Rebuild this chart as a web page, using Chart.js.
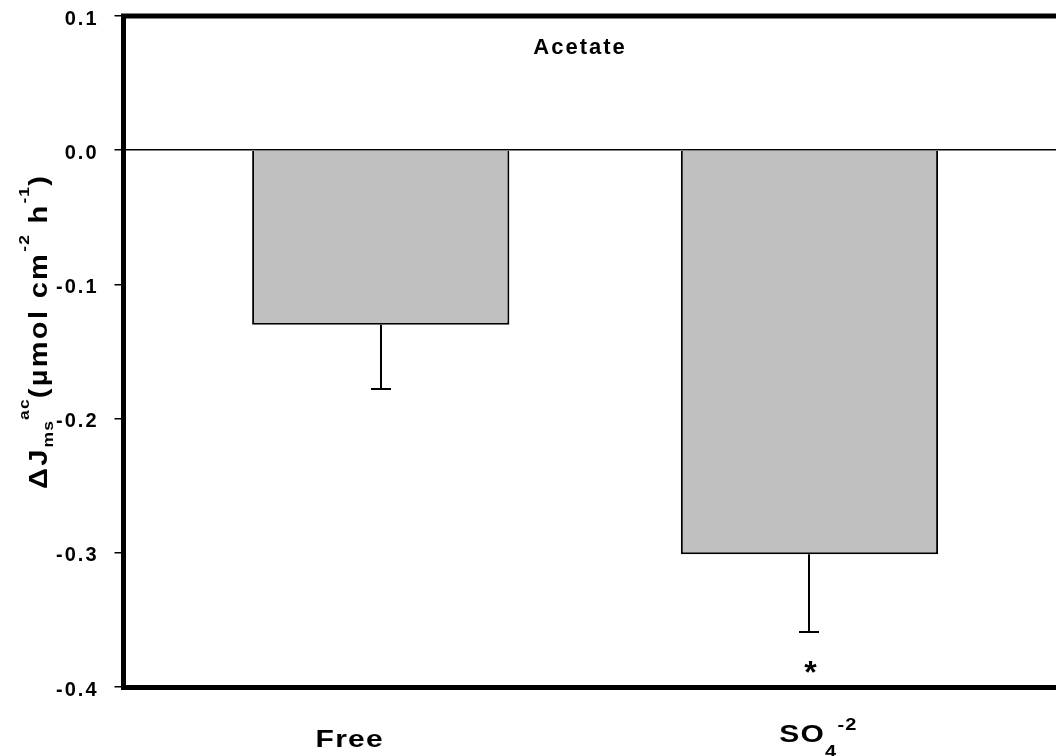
<!DOCTYPE html>
<html>
<head>
<meta charset="utf-8">
<script src="https://cdn.jsdelivr.net/npm/chart.js@4.4.0/dist/chart.umd.min.js"></script>
<style>
  html, body { margin: 0; padding: 0; background: #fff; overflow: hidden; }
  #wrap { width: 1056px; height: 756px; }
</style>
</head>
<body>
<div id="wrap"><canvas id="acetateChart" width="1056" height="756"></canvas></div>
<script>
// datos
const categories = ['Free', 'SO_{4}^{-2}'];
const positions = [1, 2];
const deltaJ = [-0.13, -0.301];
const errDown = [0.048, 0.058];
const significance = ['', '*'];
const yTicks = [0.1, 0.0, -0.1, -0.2, -0.3, -0.4];
const panelTitle = 'Acetate';
const yTitle = '\u0394J_{ms}^{ac}(\u00b5mol cm^{-2} h^{-1})';

const FONT = "'Liberation Sans', Arial, sans-serif";
Chart.defaults.font.family = FONT;
Chart.defaults.color = '#000';

// texto con subindices/superindices: _{..} y ^{..}
function parseRich(str) {
  const parts = [];
  const re = /([_^])\{([^}]*)\}|([^_^]+)/g;
  let m;
  while ((m = re.exec(str))) {
    if (m[3]) parts.push({ text: m[3], kind: 'base' });
    else parts.push({ text: m[2], kind: m[1] === '_' ? 'sub' : 'sup' });
  }
  return parts;
}

function partFont(ctx, p, st) {
  const size = p.kind === 'base' ? st.size : st.small;
  ctx.font = `bold ${size}px ${FONT}`;
  ctx.letterSpacing = (p.kind === 'base' ? st.ls : st.smallLs) + 'px';
}

function richWidth(ctx, parts, st) {
  let w = 0;
  parts.forEach(p => { partFont(ctx, p, st); w += ctx.measureText(p.text).width * st.sx; });
  return w;
}

// el texto original esta estirado a lo ancho
function drawRich(ctx, parts, x, y, st) {
  let cx = x;
  parts.forEach(p => {
    partFont(ctx, p, st);
    const dy = p.kind === 'sub' ? st.subDy : p.kind === 'sup' ? st.supDy : 0;
    ctx.save();
    ctx.translate(cx, y + dy);
    ctx.scale(st.sx, 1);
    ctx.fillText(p.text, 0, 0);
    ctx.restore();
    cx += ctx.measureText(p.text).width * st.sx;
  });
}

const xLabelStyle = { size: 24, small: 16, ls: 1, smallLs: 1, subDy: 15, supDy: -12, sx: 1.25 };
const yTitleStyle = { size: 25, small: 15, ls: 2, smallLs: 1, subDy: 6, supDy: -18, sx: 1.16 };
const labelNudge = [-31, 9];

const extrasPlugin = {
  id: 'extras',
  beforeDraw(chart) {
    chart.ctx.letterSpacing = '2px';
  },
  afterDatasetsDraw(chart) {
    const { ctx, chartArea, scales: { x, y } } = chart;
    ctx.save();

    // marco superior
    ctx.strokeStyle = '#000';
    ctx.lineWidth = 5;
    ctx.beginPath();
    ctx.moveTo(chartArea.left - 2.5, chartArea.top);
    ctx.lineTo(chartArea.right, chartArea.top);
    ctx.stroke();

    // barras de error (solo hacia abajo)
    ctx.lineWidth = 2;
    positions.forEach((pos, i) => {
      const px = Math.round(x.getPixelForValue(pos));
      const y0 = y.getPixelForValue(deltaJ[i]);
      const y1 = Math.round(y.getPixelForValue(deltaJ[i] - errDown[i]));
      ctx.beginPath();
      ctx.moveTo(px, y0);
      ctx.lineTo(px, y1);
      ctx.moveTo(px - 10, y1);
      ctx.lineTo(px + 10, y1);
      ctx.stroke();
    });

    ctx.fillStyle = '#000';
    ctx.textBaseline = 'alphabetic';

    // asteriscos
    ctx.textAlign = 'center';
    ctx.font = `bold 32px ${FONT}`;
    ctx.letterSpacing = '0px';
    significance.forEach((s, i) => {
      if (s) ctx.fillText(s, x.getPixelForValue(positions[i]) + 1, chartArea.bottom - 4);
    });

    // titulo del panel
    ctx.font = `bold 22px ${FONT}`;
    ctx.letterSpacing = '2px';
    ctx.fillText(panelTitle, x.getPixelForValue(1.5) - 15, 54);

    // etiquetas de categorias
    ctx.textAlign = 'left';
    const st = xLabelStyle;
    categories.forEach((c, i) => {
      const parts = parseRich(c);
      const w = richWidth(ctx, parts, st);
      const hasSub = parts.some(p => p.kind === 'sub');
      const hasSup = parts.some(p => p.kind === 'sup');
      const top = Math.min(-0.716 * st.size, hasSup ? st.supDy - 0.716 * st.small : 0);
      const bottom = hasSub ? st.subDy : 0;
      const base = 738 - (top + bottom) / 2;
      const cx = x.getPixelForValue(positions[i]) + labelNudge[i];
      drawRich(ctx, parts, cx - w / 2, base, st);
    });

    // titulo del eje y (rotado)
    ctx.translate(47, 489);
    ctx.rotate(-Math.PI / 2);
    drawRich(ctx, parseRich(yTitle), 0, 0, yTitleStyle);

    ctx.restore();
  },
  afterDraw(chart) {
    chart.ctx.letterSpacing = '0px';
  }
};

const ctx = document.getElementById('acetateChart').getContext('2d');
const acetateChart = new Chart(ctx, {
  type: 'bar',
  data: {
    datasets: [{
      data: positions.map((p, i) => ({ x: p, y: deltaJ[i] })),
      backgroundColor: '#c0c0c0',
      borderColor: '#000',
      borderWidth: 2,
      barPercentage: 0.6,
      categoryPercentage: 1
    }]
  },
  options: {
    responsive: false,
    animation: false,
    layout: { padding: { top: 16, right: 0, left: 0, bottom: 0 } },
    plugins: { legend: { display: false }, tooltip: { enabled: false } },
    scales: {
      x: {
        type: 'linear',
        offset: false,
        min: 0.4,
        max: 2.575,
        afterBuildTicks: s => { s.ticks = positions.map(v => ({ value: v })); },
        afterFit: s => { s.height = 69; s.paddingLeft = 0; s.paddingRight = 0; },
        ticks: { display: false },
        grid: { display: false, offset: false },
        border: { display: true, color: '#000', width: 5 }
      },
      y: {
        min: -0.4,
        max: 0.1,
        afterBuildTicks: s => { s.ticks = yTicks.map(v => ({ value: v })); },
        afterFit: s => { s.width = 123.5; s.paddingTop = 0; s.paddingBottom = 0; },
        ticks: {
          font: { size: 20, weight: 'bold' },
          padding: 16,
          labelOffset: 3,
          callback: v => v.toFixed(1)
        },
        grid: {
          color: c => (c.tick && c.tick.value === 0 ? '#000' : 'rgba(0,0,0,0)'),
          lineWidth: 1.5,
          tickColor: '#000',
          tickLength: 9,
          tickWidth: 1.5
        },
        border: { display: true, color: '#000', width: 5 }
      }
    }
  },
  plugins: [extrasPlugin]
});
</script>
</body>
</html>
